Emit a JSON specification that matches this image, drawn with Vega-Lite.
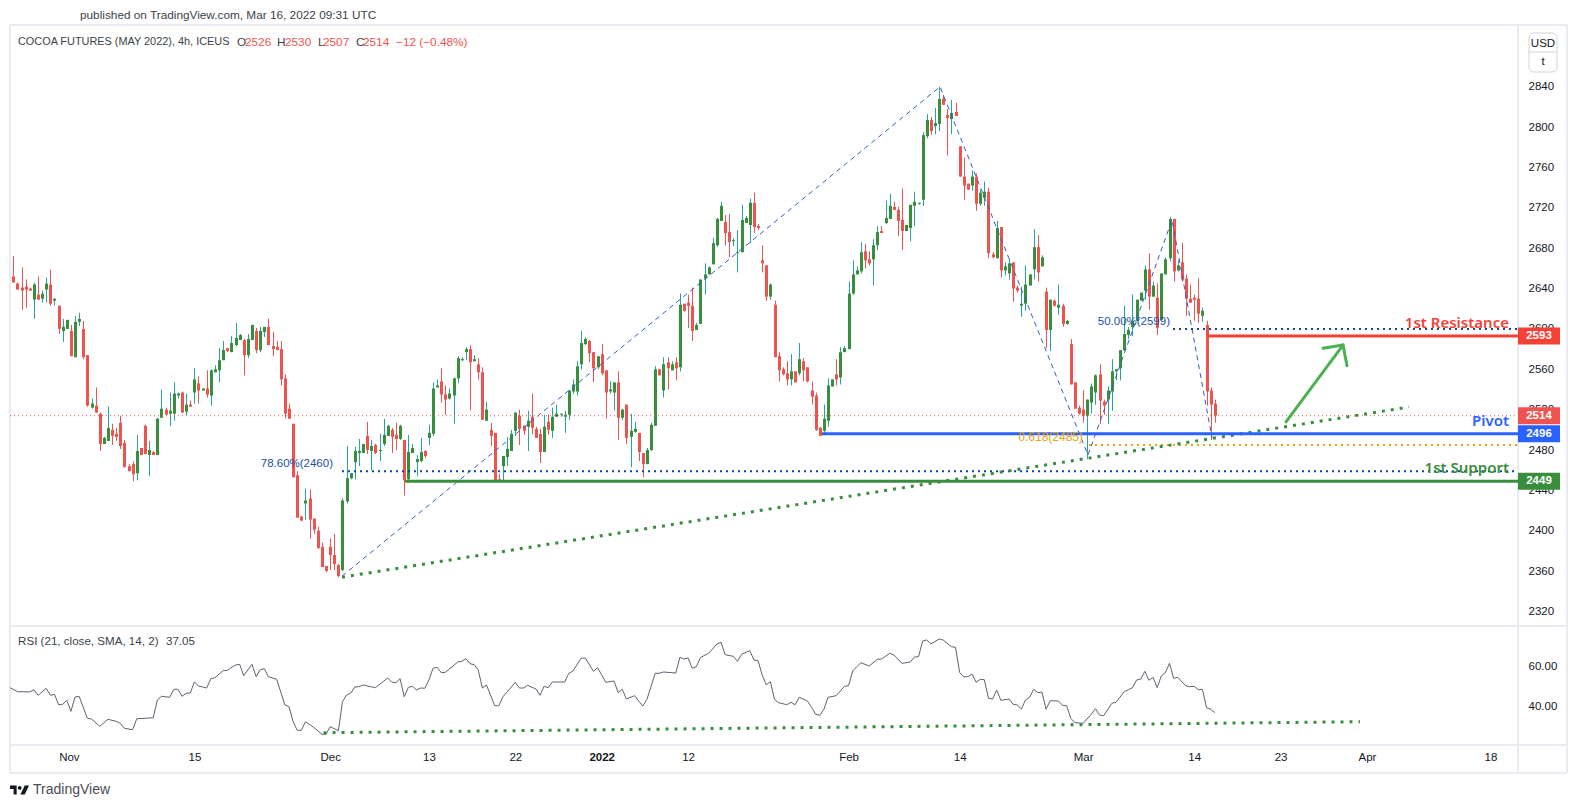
{
  "$schema": "https://vega.github.io/schema/vega-lite/v6.json",
  "background": "white",
  "padding": {"left": 8, "top": 10, "right": 0, "bottom": 0},
  "spacing": 0,
  "bounds": "flush",
  "config": {
    "view": {"stroke": null},
    "font": "Liberation Sans",
    "axis": {"domain": false, "ticks": false, "grid": false, "labelFont": "Liberation Sans", "labelFontSize": 11.5, "labelColor": "#131722"},
    "axisX": {"labels": false}
  },
  "datasets": {
    "candles": [
{"i":0,"open":2652,"high":2672,"low":2646,"close":2646},{"i":1,"open":2645,"high":2646,"low":2639,"close":2639},{"i":2,"open":2641,"high":2661,"low":2619,"close":2638},{"i":3,"open":2642,"high":2649,"low":2621,"close":2639},{"i":4,"open":2640,"high":2641,"low":2638,"close":2638},
{"i":5,"open":2629,"high":2646,"low":2610,"close":2644},{"i":6,"open":2634,"high":2652,"low":2629,"close":2629},{"i":7,"open":2630,"high":2638,"low":2626,"close":2635},{"i":8,"open":2639,"high":2651,"low":2626,"close":2645},{"i":9,"open":2644,"high":2659,"low":2623,"close":2625},
{"i":10,"open":2628,"high":2630,"low":2623,"close":2630},{"i":11,"open":2623,"high":2623,"low":2595,"close":2600},{"i":12,"open":2598,"high":2610,"low":2587,"close":2602},{"i":13,"open":2600,"high":2609,"low":2600,"close":2609},{"i":14,"open":2598,"high":2604,"low":2573,"close":2573},
{"i":15,"open":2572,"high":2613,"low":2572,"close":2607},{"i":16,"open":2607,"high":2616,"low":2603,"close":2610},{"i":17,"open":2600,"high":2608,"low":2570,"close":2572},{"i":18,"open":2574,"high":2574,"low":2523,"close":2524},{"i":19,"open":2522,"high":2531,"low":2521,"close":2526},
{"i":20,"open":2524,"high":2542,"low":2517,"close":2517},{"i":21,"open":2516,"high":2517,"low":2479,"close":2486},{"i":22,"open":2486,"high":2493,"low":2486,"close":2492},{"i":23,"open":2489,"high":2523,"low":2489,"close":2502},{"i":24,"open":2500,"high":2506,"low":2485,"close":2494},
{"i":25,"open":2496,"high":2502,"low":2489,"close":2493},{"i":26,"open":2507,"high":2514,"low":2481,"close":2484},{"i":27,"open":2487,"high":2490,"low":2463,"close":2463},{"i":28,"open":2464,"high":2466,"low":2459,"close":2459},{"i":29,"open":2466,"high":2469,"low":2449,"close":2456},
{"i":30,"open":2457,"high":2495,"low":2450,"close":2479},{"i":31,"open":2482,"high":2482,"low":2475,"close":2475},{"i":32,"open":2504,"high":2505,"low":2476,"close":2476},{"i":33,"open":2475,"high":2489,"low":2454,"close":2480},{"i":34,"open":2478,"high":2479,"low":2475,"close":2475},
{"i":35,"open":2475,"high":2512,"low":2475,"close":2511},{"i":36,"open":2512,"high":2540,"low":2512,"close":2521},{"i":37,"open":2520,"high":2522,"low":2515,"close":2515},{"i":38,"open":2516,"high":2537,"low":2504,"close":2519},{"i":39,"open":2516,"high":2547,"low":2509,"close":2536},
{"i":40,"open":2534,"high":2537,"low":2531,"close":2536},{"i":41,"open":2537,"high":2538,"low":2517,"close":2517},{"i":42,"open":2518,"high":2536,"low":2514,"close":2525},{"i":43,"open":2525,"high":2529,"low":2523,"close":2523},{"i":44,"open":2537,"high":2561,"low":2526,"close":2550},
{"i":45,"open":2546,"high":2553,"low":2526,"close":2539},{"i":46,"open":2539,"high":2541,"low":2539,"close":2541},{"i":47,"open":2541,"high":2559,"low":2532,"close":2535},{"i":48,"open":2534,"high":2560,"low":2524,"close":2559},{"i":49,"open":2557,"high":2564,"low":2557,"close":2560},
{"i":50,"open":2559,"high":2581,"low":2547,"close":2569},{"i":51,"open":2569,"high":2588,"low":2569,"close":2579},{"i":52,"open":2581,"high":2581,"low":2577,"close":2578},{"i":53,"open":2577,"high":2593,"low":2577,"close":2586},{"i":54,"open":2584,"high":2606,"low":2583,"close":2591},
{"i":55,"open":2589,"high":2595,"low":2589,"close":2594},{"i":56,"open":2589,"high":2590,"low":2554,"close":2574},{"i":57,"open":2574,"high":2595,"low":2571,"close":2590},{"i":58,"open":2589,"high":2604,"low":2589,"close":2604},{"i":59,"open":2598,"high":2601,"low":2576,"close":2579},
{"i":60,"open":2579,"high":2602,"low":2577,"close":2598},{"i":61,"open":2597,"high":2602,"low":2592,"close":2602},{"i":62,"open":2602,"high":2610,"low":2584,"close":2584},{"i":63,"open":2583,"high":2597,"low":2573,"close":2580},{"i":64,"open":2582,"high":2588,"low":2579,"close":2579},
{"i":65,"open":2580,"high":2588,"low":2544,"close":2550},{"i":66,"open":2551,"high":2555,"low":2511,"close":2516},{"i":67,"open":2521,"high":2526,"low":2511,"close":2511},{"i":68,"open":2506,"high":2506,"low":2453,"close":2453},{"i":69,"open":2455,"high":2459,"low":2413,"close":2413},
{"i":70,"open":2414,"high":2415,"low":2410,"close":2410},{"i":71,"open":2427,"high":2442,"low":2411,"close":2430},{"i":72,"open":2432,"high":2441,"low":2392,"close":2411},{"i":73,"open":2412,"high":2412,"low":2397,"close":2401},{"i":74,"open":2400,"high":2404,"low":2382,"close":2383},
{"i":75,"open":2384,"high":2388,"low":2364,"close":2364},{"i":76,"open":2365,"high":2365,"low":2359,"close":2360},{"i":77,"open":2384,"high":2392,"low":2361,"close":2376},{"i":78,"open":2376,"high":2397,"low":2361,"close":2367},{"i":79,"open":2366,"high":2367,"low":2354,"close":2355},
{"i":80,"open":2361,"high":2432,"low":2360,"close":2430},{"i":81,"open":2429,"high":2484,"low":2427,"close":2452},{"i":82,"open":2452,"high":2457,"low":2451,"close":2457},{"i":83,"open":2468,"high":2483,"low":2451,"close":2479},{"i":84,"open":2477,"high":2491,"low":2464,"close":2479},
{"i":85,"open":2477,"high":2486,"low":2477,"close":2486},{"i":86,"open":2494,"high":2508,"low":2476,"close":2480},{"i":87,"open":2479,"high":2490,"low":2460,"close":2484},{"i":88,"open":2485,"high":2486,"low":2476,"close":2477},{"i":89,"open":2479,"high":2496,"low":2469,"close":2480},
{"i":90,"open":2486,"high":2511,"low":2484,"close":2495},{"i":91,"open":2494,"high":2505,"low":2494,"close":2504},{"i":92,"open":2500,"high":2502,"low":2477,"close":2493},{"i":93,"open":2495,"high":2507,"low":2480,"close":2491},{"i":94,"open":2491,"high":2505,"low":2490,"close":2504},
{"i":95,"open":2490,"high":2490,"low":2435,"close":2450},{"i":96,"open":2451,"high":2495,"low":2450,"close":2478},{"i":97,"open":2477,"high":2486,"low":2477,"close":2482},{"i":98,"open":2468,"high":2475,"low":2454,"close":2471},{"i":99,"open":2469,"high":2492,"low":2468,"close":2478},
{"i":100,"open":2479,"high":2480,"low":2472,"close":2474},{"i":101,"open":2492,"high":2505,"low":2485,"close":2497},{"i":102,"open":2496,"high":2547,"low":2494,"close":2541},{"i":103,"open":2542,"high":2550,"low":2542,"close":2544},{"i":104,"open":2548,"high":2561,"low":2527,"close":2535},
{"i":105,"open":2535,"high":2544,"low":2515,"close":2530},{"i":106,"open":2531,"high":2541,"low":2530,"close":2536},{"i":107,"open":2534,"high":2552,"low":2506,"close":2551},{"i":108,"open":2551,"high":2573,"low":2546,"close":2571},{"i":109,"open":2569,"high":2572,"low":2568,"close":2570},
{"i":110,"open":2577,"high":2582,"low":2569,"close":2580},{"i":111,"open":2580,"high":2584,"low":2519,"close":2567},{"i":112,"open":2568,"high":2574,"low":2568,"close":2570},{"i":113,"open":2565,"high":2571,"low":2550,"close":2557},{"i":114,"open":2557,"high":2562,"low":2510,"close":2510},
{"i":115,"open":2509,"high":2528,"low":2509,"close":2520},{"i":116,"open":2500,"high":2507,"low":2484,"close":2494},{"i":117,"open":2497,"high":2497,"low":2449,"close":2449},{"i":118,"open":2451,"high":2456,"low":2449,"close":2449},{"i":119,"open":2464,"high":2474,"low":2449,"close":2474},
{"i":120,"open":2473,"high":2493,"low":2464,"close":2481},{"i":121,"open":2479,"high":2500,"low":2479,"close":2496},{"i":122,"open":2499,"high":2518,"low":2494,"close":2517},{"i":123,"open":2514,"high":2520,"low":2485,"close":2501},{"i":124,"open":2504,"high":2504,"low":2495,"close":2499},
{"i":125,"open":2503,"high":2519,"low":2479,"close":2509},{"i":126,"open":2513,"high":2536,"low":2496,"close":2502},{"i":127,"open":2501,"high":2503,"low":2492,"close":2492},{"i":128,"open":2496,"high":2501,"low":2467,"close":2478},{"i":129,"open":2478,"high":2515,"low":2478,"close":2503},
{"i":130,"open":2508,"high":2515,"low":2495,"close":2500},{"i":131,"open":2499,"high":2522,"low":2492,"close":2513},{"i":132,"open":2513,"high":2525,"low":2513,"close":2516},{"i":133,"open":2515,"high":2516,"low":2513,"close":2516},{"i":134,"open":2513,"high":2519,"low":2497,"close":2515},
{"i":135,"open":2515,"high":2539,"low":2510,"close":2539},{"i":136,"open":2538,"high":2550,"low":2536,"close":2545},{"i":137,"open":2538,"high":2568,"low":2534,"close":2563},{"i":138,"open":2565,"high":2598,"low":2560,"close":2586},{"i":139,"open":2585,"high":2592,"low":2584,"close":2590},
{"i":140,"open":2588,"high":2589,"low":2567,"close":2576},{"i":141,"open":2577,"high":2577,"low":2547,"close":2561},{"i":142,"open":2562,"high":2573,"low":2560,"close":2573},{"i":143,"open":2575,"high":2585,"low":2554,"close":2556},{"i":144,"open":2559,"high":2559,"low":2511,"close":2537},
{"i":145,"open":2538,"high":2548,"low":2536,"close":2540},{"i":146,"open":2537,"high":2547,"low":2519,"close":2547},{"i":147,"open":2547,"high":2558,"low":2490,"close":2512},{"i":148,"open":2512,"high":2521,"low":2510,"close":2520},{"i":149,"open":2525,"high":2525,"low":2486,"close":2492},
{"i":150,"open":2493,"high":2516,"low":2463,"close":2499},{"i":151,"open":2498,"high":2508,"low":2497,"close":2501},{"i":152,"open":2497,"high":2497,"low":2469,"close":2478},{"i":153,"open":2477,"high":2477,"low":2453,"close":2466},{"i":154,"open":2466,"high":2482,"low":2466,"close":2480},
{"i":155,"open":2480,"high":2507,"low":2479,"close":2505},{"i":156,"open":2504,"high":2563,"low":2504,"close":2560},{"i":157,"open":2560,"high":2560,"low":2554,"close":2554},{"i":158,"open":2539,"high":2572,"low":2532,"close":2565},{"i":159,"open":2567,"high":2572,"low":2540,"close":2561},
{"i":160,"open":2559,"high":2568,"low":2559,"close":2565},{"i":161,"open":2567,"high":2572,"low":2549,"close":2561},{"i":162,"open":2562,"high":2635,"low":2558,"close":2624},{"i":163,"open":2625,"high":2625,"low":2617,"close":2618},{"i":164,"open":2626,"high":2634,"low":2601,"close":2623},
{"i":165,"open":2623,"high":2641,"low":2588,"close":2598},{"i":166,"open":2599,"high":2606,"low":2599,"close":2604},{"i":167,"open":2605,"high":2649,"low":2605,"close":2649},{"i":168,"open":2650,"high":2665,"low":2634,"close":2654},{"i":169,"open":2654,"high":2662,"low":2654,"close":2661},
{"i":170,"open":2664,"high":2690,"low":2664,"close":2685},{"i":171,"open":2683,"high":2710,"low":2681,"close":2709},{"i":172,"open":2707,"high":2726,"low":2707,"close":2722},{"i":173,"open":2706,"high":2713,"low":2683,"close":2695},{"i":174,"open":2696,"high":2714,"low":2671,"close":2686},
{"i":175,"open":2687,"high":2690,"low":2682,"close":2688},{"i":176,"open":2675,"high":2698,"low":2656,"close":2676},{"i":177,"open":2676,"high":2723,"low":2676,"close":2708},{"i":178,"open":2705,"high":2712,"low":2705,"close":2710},{"i":179,"open":2703,"high":2729,"low":2685,"close":2725},
{"i":180,"open":2725,"high":2735,"low":2695,"close":2701},{"i":181,"open":2702,"high":2704,"low":2698,"close":2700},{"i":182,"open":2668,"high":2683,"low":2656,"close":2665},{"i":183,"open":2663,"high":2663,"low":2628,"close":2632},{"i":184,"open":2632,"high":2645,"low":2629,"close":2644},
{"i":185,"open":2624,"high":2628,"low":2572,"close":2572},{"i":186,"open":2573,"high":2577,"low":2548,"close":2559},{"i":187,"open":2560,"high":2562,"low":2554,"close":2555},{"i":188,"open":2556,"high":2568,"low":2544,"close":2550},{"i":189,"open":2550,"high":2575,"low":2544,"close":2558},
{"i":190,"open":2558,"high":2558,"low":2547,"close":2547},{"i":191,"open":2556,"high":2586,"low":2554,"close":2570},{"i":192,"open":2568,"high":2571,"low":2548,"close":2559},{"i":193,"open":2562,"high":2562,"low":2547,"close":2548},{"i":194,"open":2539,"high":2548,"low":2525,"close":2533},
{"i":195,"open":2534,"high":2537,"low":2499,"close":2500},{"i":196,"open":2502,"high":2503,"low":2494,"close":2494},{"i":197,"open":2499,"high":2525,"low":2497,"close":2511},{"i":198,"open":2509,"high":2551,"low":2503,"close":2544},{"i":199,"open":2543,"high":2550,"low":2543,"close":2550},
{"i":200,"open":2555,"high":2570,"low":2544,"close":2550},{"i":201,"open":2552,"high":2582,"low":2545,"close":2577},{"i":202,"open":2577,"high":2583,"low":2577,"close":2581},{"i":203,"open":2580,"high":2647,"low":2580,"close":2635},{"i":204,"open":2635,"high":2668,"low":2634,"close":2654},
{"i":205,"open":2654,"high":2662,"low":2654,"close":2658},{"i":206,"open":2657,"high":2686,"low":2655,"close":2676},{"i":207,"open":2677,"high":2684,"low":2660,"close":2668},{"i":208,"open":2669,"high":2677,"low":2663,"close":2665},{"i":209,"open":2669,"high":2689,"low":2643,"close":2683},
{"i":210,"open":2683,"high":2702,"low":2678,"close":2696},{"i":211,"open":2697,"high":2702,"low":2695,"close":2695},{"i":212,"open":2705,"high":2727,"low":2704,"close":2710},{"i":213,"open":2709,"high":2734,"low":2709,"close":2722},{"i":214,"open":2721,"high":2726,"low":2718,"close":2718},
{"i":215,"open":2718,"high":2721,"low":2692,"close":2707},{"i":216,"open":2708,"high":2739,"low":2678,"close":2697},{"i":217,"open":2697,"high":2703,"low":2697,"close":2703},{"i":218,"open":2700,"high":2723,"low":2687,"close":2723},{"i":219,"open":2722,"high":2736,"low":2702,"close":2726},
{"i":220,"open":2724,"high":2725,"low":2723,"close":2725},{"i":221,"open":2728,"high":2795,"low":2722,"close":2792},{"i":222,"open":2791,"high":2813,"low":2789,"close":2807},{"i":223,"open":2807,"high":2810,"low":2792,"close":2796},{"i":224,"open":2801,"high":2819,"low":2793,"close":2804},
{"i":225,"open":2803,"high":2840,"low":2796,"close":2828},{"i":226,"open":2828,"high":2832,"low":2822,"close":2822},{"i":227,"open":2812,"high":2818,"low":2772,"close":2809},{"i":228,"open":2808,"high":2827,"low":2793,"close":2814},{"i":229,"open":2815,"high":2824,"low":2811,"close":2811},
{"i":230,"open":2781,"high":2781,"low":2751,"close":2751},{"i":231,"open":2751,"high":2770,"low":2728,"close":2742},{"i":232,"open":2744,"high":2744,"low":2738,"close":2738},{"i":233,"open":2742,"high":2757,"low":2737,"close":2751},{"i":234,"open":2751,"high":2754,"low":2717,"close":2724},
{"i":235,"open":2724,"high":2738,"low":2722,"close":2735},{"i":236,"open":2730,"high":2746,"low":2722,"close":2736},{"i":237,"open":2736,"high":2740,"low":2670,"close":2675},{"i":238,"open":2674,"high":2676,"low":2670,"close":2671},{"i":239,"open":2670,"high":2707,"low":2670,"close":2700},
{"i":240,"open":2701,"high":2701,"low":2651,"close":2658},{"i":241,"open":2658,"high":2666,"low":2653,"close":2662},{"i":242,"open":2655,"high":2669,"low":2649,"close":2665},{"i":243,"open":2666,"high":2666,"low":2627,"close":2640},{"i":244,"open":2641,"high":2643,"low":2636,"close":2638},
{"i":245,"open":2623,"high":2642,"low":2612,"close":2625},{"i":246,"open":2625,"high":2663,"low":2618,"close":2644},{"i":247,"open":2643,"high":2654,"low":2643,"close":2654},{"i":248,"open":2659,"high":2699,"low":2649,"close":2681},{"i":249,"open":2681,"high":2693,"low":2647,"close":2656},
{"i":250,"open":2662,"high":2673,"low":2662,"close":2671},{"i":251,"open":2637,"high":2641,"low":2581,"close":2599},{"i":252,"open":2599,"high":2629,"low":2578,"close":2629},{"i":253,"open":2628,"high":2629,"low":2622,"close":2623},{"i":254,"open":2621,"high":2644,"low":2614,"close":2624},
{"i":255,"open":2623,"high":2625,"low":2602,"close":2605},{"i":256,"open":2605,"high":2609,"low":2604,"close":2608},{"i":257,"open":2585,"high":2590,"low":2545,"close":2545},{"i":258,"open":2547,"high":2547,"low":2521,"close":2521},{"i":259,"open":2522,"high":2524,"low":2515,"close":2516},
{"i":260,"open":2520,"high":2539,"low":2507,"close":2514},{"i":261,"open":2514,"high":2530,"low":2471,"close":2530},{"i":262,"open":2527,"high":2546,"low":2516,"close":2543},{"i":263,"open":2537,"high":2555,"low":2525,"close":2554},{"i":264,"open":2555,"high":2565,"low":2506,"close":2529},
{"i":265,"open":2528,"high":2530,"low":2515,"close":2524},{"i":266,"open":2530,"high":2543,"low":2506,"close":2539},{"i":267,"open":2538,"high":2570,"low":2519,"close":2558},{"i":268,"open":2558,"high":2560,"low":2549,"close":2560},{"i":269,"open":2561,"high":2579,"low":2549,"close":2579},
{"i":270,"open":2579,"high":2623,"low":2578,"close":2595},{"i":271,"open":2594,"high":2602,"low":2590,"close":2599},{"i":272,"open":2602,"high":2634,"low":2593,"close":2608},{"i":273,"open":2608,"high":2629,"low":2608,"close":2629},{"i":274,"open":2628,"high":2636,"low":2628,"close":2636},
{"i":275,"open":2638,"high":2663,"low":2629,"close":2659},{"i":276,"open":2659,"high":2675,"low":2619,"close":2632},{"i":277,"open":2632,"high":2647,"low":2632,"close":2643},{"i":278,"open":2631,"high":2645,"low":2594,"close":2601},{"i":279,"open":2609,"high":2655,"low":2609,"close":2655},
{"i":280,"open":2654,"high":2671,"low":2654,"close":2669},{"i":281,"open":2670,"high":2711,"low":2667,"close":2709},{"i":282,"open":2709,"high":2709,"low":2647,"close":2657},{"i":283,"open":2658,"high":2668,"low":2657,"close":2663},{"i":284,"open":2666,"high":2685,"low":2647,"close":2649},
{"i":285,"open":2650,"high":2654,"low":2613,"close":2630},{"i":286,"open":2630,"high":2644,"low":2626,"close":2626},{"i":287,"open":2631,"high":2634,"low":2608,"close":2629},{"i":288,"open":2630,"high":2650,"low":2606,"close":2615},{"i":289,"open":2613,"high":2621,"low":2607,"close":2618},
{"i":290,"open":2604,"high":2608,"low":2524,"close":2538},{"i":291,"open":2539,"high":2542,"low":2490,"close":2525},{"i":292,"open":2526,"high":2530,"low":2507,"close":2514}
    ],
    "rsi": [
{"i":-0.8,"rsi":49.5},{"i":1,"rsi":47.5},{"i":4,"rsi":47.4},{"i":5,"rsi":48.5},{"i":6,"rsi":45.7},{"i":8,"rsi":49.2},{"i":9,"rsi":45.7},{"i":10,"rsi":46.2},{"i":11,"rsi":41},{"i":12,"rsi":41.2},{"i":13,"rsi":43.2},{"i":14,"rsi":37.7},{"i":15,"rsi":44.85},{"i":16,"rsi":45.2},{"i":18,"rsi":34.2},{"i":19,"rsi":33.85},{"i":21,"rsi":30.2},{"i":23,"rsi":33.7},{"i":25,"rsi":32.7},{"i":26,"rsi":31.7},{"i":27,"rsi":29.2},{"i":29,"rsi":28.5},{"i":30,"rsi":34},{"i":32,"rsi":34.2},{"i":34,"rsi":34.5},{"i":35,"rsi":43.35},{"i":36,"rsi":45.2},{"i":38,"rsi":44.7},{"i":39,"rsi":48.7},{"i":40,"rsi":48.7},{"i":41,"rsi":45.2},{"i":42,"rsi":46.7},{"i":43,"rsi":46.85},{"i":44,"rsi":52.35},{"i":45,"rsi":50.35},{"i":47,"rsi":49.35},{"i":48,"rsi":54},{"i":49,"rsi":54.5},{"i":51,"rsi":58},{"i":52,"rsi":58.2},{"i":54,"rsi":60.85},{"i":55,"rsi":61.2},{"i":56,"rsi":55.5},{"i":58,"rsi":61.2},{"i":59,"rsi":55},{"i":60,"rsi":58.5},{"i":61,"rsi":59},{"i":62,"rsi":55},{"i":64,"rsi":53.7},{"i":66,"rsi":40.85},{"i":67,"rsi":40},{"i":68,"rsi":32.5},{"i":69,"rsi":28.2},{"i":70,"rsi":28.2},{"i":71,"rsi":32.5},{"i":73,"rsi":29.7},{"i":75,"rsi":26.2},{"i":76,"rsi":26.2},{"i":77,"rsi":30},{"i":79,"rsi":28},{"i":80,"rsi":42.5},{"i":81,"rsi":45.85},{"i":82,"rsi":46.7},{"i":83,"rsi":49.85},{"i":84,"rsi":50},{"i":85,"rsi":50.85},{"i":88,"rsi":49.5},{"i":91,"rsi":54.35},{"i":92,"rsi":52.2},{"i":93,"rsi":52},{"i":94,"rsi":54},{"i":95,"rsi":45},{"i":96,"rsi":49.7},{"i":97,"rsi":50.2},{"i":98,"rsi":48.35},{"i":99,"rsi":49.35},{"i":100,"rsi":49.2},{"i":101,"rsi":53.35},{"i":102,"rsi":59.2},{"i":103,"rsi":59.7},{"i":104,"rsi":57},{"i":105,"rsi":57.2},{"i":108,"rsi":62.35},{"i":109,"rsi":62.7},{"i":110,"rsi":64},{"i":111,"rsi":61.5},{"i":112,"rsi":61},{"i":113,"rsi":58.35},{"i":114,"rsi":49.35},{"i":115,"rsi":50.85},{"i":117,"rsi":40.5},{"i":118,"rsi":40.5},{"i":119,"rsi":45},{"i":120,"rsi":47.35},{"i":122,"rsi":52.2},{"i":123,"rsi":49.35},{"i":124,"rsi":49.35},{"i":125,"rsi":50.7},{"i":127,"rsi":48.85},{"i":128,"rsi":45.7},{"i":129,"rsi":50.2},{"i":130,"rsi":49.5},{"i":131,"rsi":52.35},{"i":134,"rsi":52.35},{"i":135,"rsi":56.7},{"i":136,"rsi":57.85},{"i":138,"rsi":64.2},{"i":139,"rsi":64.35},{"i":141,"rsi":57.7},{"i":142,"rsi":59.5},{"i":144,"rsi":52.2},{"i":146,"rsi":52.85},{"i":147,"rsi":47},{"i":148,"rsi":48.7},{"i":149,"rsi":43.85},{"i":151,"rsi":45.5},{"i":152,"rsi":42.85},{"i":153,"rsi":40.35},{"i":154,"rsi":43.7},{"i":156,"rsi":56.7},{"i":157,"rsi":56.7},{"i":158,"rsi":57.35},{"i":161,"rsi":56.85},{"i":162,"rsi":64.7},{"i":163,"rsi":63.85},{"i":164,"rsi":64.35},{"i":165,"rsi":59.2},{"i":166,"rsi":60},{"i":167,"rsi":64.6},{"i":169,"rsi":66.7},{"i":171,"rsi":71.35},{"i":172,"rsi":72.2},{"i":173,"rsi":66},{"i":175,"rsi":65.2},{"i":176,"rsi":62.7},{"i":177,"rsi":66.2},{"i":179,"rsi":68},{"i":180,"rsi":63.35},{"i":181,"rsi":63},{"i":182,"rsi":55.85},{"i":183,"rsi":51},{"i":184,"rsi":52.5},{"i":185,"rsi":43.7},{"i":186,"rsi":42},{"i":188,"rsi":41},{"i":189,"rsi":42.2},{"i":190,"rsi":41},{"i":191,"rsi":44.7},{"i":193,"rsi":42.85},{"i":194,"rsi":39.7},{"i":195,"rsi":36.2},{"i":196,"rsi":35.7},{"i":197,"rsi":38.7},{"i":198,"rsi":44.7},{"i":200,"rsi":45.5},{"i":202,"rsi":50.2},{"i":203,"rsi":50.5},{"i":204,"rsi":57.85},{"i":205,"rsi":60},{"i":206,"rsi":62},{"i":208,"rsi":60.35},{"i":210,"rsi":63.7},{"i":211,"rsi":63.85},{"i":213,"rsi":66.7},{"i":214,"rsi":65.85},{"i":216,"rsi":61.7},{"i":218,"rsi":62.35},{"i":219,"rsi":64.85},{"i":220,"rsi":65},{"i":221,"rsi":72.85},{"i":222,"rsi":73.35},{"i":223,"rsi":71.35},{"i":225,"rsi":73.85},{"i":226,"rsi":73.35},{"i":228,"rsi":70},{"i":229,"rsi":69.7},{"i":230,"rsi":57},{"i":231,"rsi":55},{"i":232,"rsi":55},{"i":233,"rsi":56.35},{"i":234,"rsi":52.2},{"i":235,"rsi":53.7},{"i":236,"rsi":53.5},{"i":237,"rsi":44.2},{"i":238,"rsi":43.85},{"i":239,"rsi":48.35},{"i":240,"rsi":43.2},{"i":242,"rsi":43.85},{"i":243,"rsi":41.2},{"i":244,"rsi":40.85},{"i":245,"rsi":38.85},{"i":246,"rsi":43.35},{"i":247,"rsi":44.7},{"i":248,"rsi":48.7},{"i":249,"rsi":47},{"i":250,"rsi":47.35},{"i":251,"rsi":38.7},{"i":252,"rsi":43},{"i":254,"rsi":42.85},{"i":255,"rsi":40.7},{"i":256,"rsi":40.5},{"i":257,"rsi":34.2},{"i":258,"rsi":32},{"i":260,"rsi":31.7},{"i":262,"rsi":36.2},{"i":263,"rsi":39},{"i":264,"rsi":35.85},{"i":265,"rsi":35.5},{"i":267,"rsi":41.7},{"i":268,"rsi":42.2},{"i":270,"rsi":47.5},{"i":271,"rsi":48.5},{"i":272,"rsi":49.5},{"i":273,"rsi":53.35},{"i":274,"rsi":53.85},{"i":275,"rsi":57.7},{"i":276,"rsi":53.2},{"i":277,"rsi":54.7},{"i":278,"rsi":49.5},{"i":279,"rsi":55.35},{"i":280,"rsi":57},{"i":281,"rsi":61.7},{"i":282,"rsi":54.2},{"i":283,"rsi":54.7},{"i":285,"rsi":50.35},{"i":286,"rsi":50},{"i":287,"rsi":50.2},{"i":288,"rsi":48.5},{"i":289,"rsi":48.7},{"i":290,"rsi":39.5},{"i":291,"rsi":38.7},{"i":292,"rsi":37.05}
    ],
    "levels": [
      {"name": "resistance", "start": 290.4, "end": 365.7, "price": 2593},
      {"name": "last", "start": -0.81, "end": 365.7, "price": 2514},
      {"name": "pivot", "start": 196.6, "end": 365.7, "price": 2496},
      {"name": "support", "start": 95.2, "end": 365.7, "price": 2449}
    ]
  },
  "vconcat": [
    {
      "width": 1508,
      "height": 601,
      "layer": [
        {
          "data": {"values": [
            {"x1": -0.81, "x2": 377.7, "y1": 2901.2, "y2": 2901.2},
            {"x1": -0.81, "x2": 377.7, "y1": 2305.6, "y2": 2305.6},
            {"x1": -0.81, "x2": 377.7, "y1": 2187.6, "y2": 2187.6},
            {"x1": -0.81, "x2": 377.7, "y1": 2160, "y2": 2160},
            {"x1": -0.81, "x2": -0.81, "y1": 2901.2, "y2": 2160},
            {"x1": 365.7, "x2": 365.7, "y1": 2901.2, "y2": 2160},
            {"x1": 377.7, "x2": 377.7, "y1": 2901.2, "y2": 2160}
          ]},
          "mark": {"type": "rule", "color": "#e9ebf0", "strokeWidth": 2},
          "encoding": {
            "x": {"field": "x1", "type": "quantitative", "title": null, "scale": {"domain": [-0.81, 365.7], "nice": false, "zero": false, "round": true}},
            "x2": {"field": "x2"},
            "y": {
              "field": "y1", "type": "quantitative", "title": null,
              "scale": {"domain": [2305.6, 2901.2], "nice": false, "zero": false},
              "axis": {"orient": "right", "title": null, "values": [2320, 2360, 2400, 2440, 2480, 2520, 2560, 2600, 2640, 2680, 2720, 2760, 2800, 2840], "labelPadding": 10, "format": "d"}
            },
            "y2": {"field": "y2"}
          }
        },
        {
          "data": {"name": "candles"},
          "mark": {"type": "rule", "strokeWidth": 1, "xOffset": 0.5},
          "encoding": {
            "x": {"field": "i", "type": "quantitative", "title": null},
            "y": {"field": "high", "type": "quantitative", "title": null},
            "y2": {"field": "low"},
            "color": {"condition": {"test": "datum.close >= datum.open", "value": "#26a69a"}, "value": "#ef5350"}
          }
        },
        {
          "data": {"name": "candles"},
          "mark": {"type": "rule", "strokeWidth": 3, "xOffset": 0.5},
          "encoding": {
            "x": {"field": "i", "type": "quantitative", "title": null},
            "y": {"field": "open", "type": "quantitative", "title": null},
            "y2": {"field": "close"},
            "color": {"condition": {"test": "datum.close >= datum.open", "value": "#388e3c"}, "value": "#ef5350"}
          }
        },
        {
          "data": {"values": [
            {"i": 79.9, "p": 2355},
            {"i": 225.2, "p": 2840},
            {"i": 261.2, "p": 2475},
            {"i": 281.6, "p": 2708},
            {"i": 291.4, "p": 2492}
          ]},
          "mark": {"type": "line", "color": "#2f5fc4", "strokeWidth": 1, "strokeDash": [5, 4]},
          "encoding": {
            "x": {"field": "i", "type": "quantitative", "title": null},
            "y": {"field": "p", "type": "quantitative", "title": null}
          }
        },
        {
          "data": {"values": [
            {"start": 79.9, "end": 365.7, "price": 2459},
            {"start": 281.9, "end": 365.7, "price": 2600}
          ]},
          "mark": {"type": "rule", "color": "#0d47a1", "strokeWidth": 2, "strokeDash": [2, 4]},
          "encoding": {
            "x": {"field": "start", "type": "quantitative", "title": null},
            "x2": {"field": "end"},
            "y": {"field": "price", "type": "quantitative", "title": null}
          }
        },
        {
          "data": {"values": [{"start": 261.5, "end": 365.7, "price": 2485}]},
          "mark": {"type": "rule", "color": "#e5a50f", "strokeWidth": 2, "strokeDash": [2, 4]},
          "encoding": {
            "x": {"field": "start", "type": "quantitative", "title": null},
            "x2": {"field": "end"},
            "y": {"field": "price", "type": "quantitative", "title": null}
          }
        },
        {
          "data": {"values": [{"i": 79.9, "p": 2354}, {"i": 339.3, "p": 2522.6}]},
          "mark": {"type": "line", "color": "#388e3c", "strokeWidth": 3, "strokeDash": [3, 6]},
          "encoding": {
            "x": {"field": "i", "type": "quantitative", "title": null},
            "y": {"field": "p", "type": "quantitative", "title": null}
          }
        },
        {
          "data": {"name": "levels"},
          "transform": [{"filter": "datum.name == 'last'"}],
          "mark": {"type": "rule", "color": "#ef5350", "strokeWidth": 1, "strokeDash": [1, 3]},
          "encoding": {
            "x": {"field": "start", "type": "quantitative", "title": null},
            "x2": {"field": "end"},
            "y": {"field": "price", "type": "quantitative", "title": null}
          }
        },
        {
          "data": {"name": "levels"},
          "transform": [{"filter": "datum.name != 'last'"}],
          "mark": {"type": "rule", "strokeWidth": 3},
          "encoding": {
            "x": {"field": "start", "type": "quantitative", "title": null},
            "x2": {"field": "end"},
            "y": {"field": "price", "type": "quantitative", "title": null},
            "color": {"field": "name", "type": "nominal", "legend": null, "scale": {"domain": ["resistance", "last", "pivot", "support"], "range": ["#f44336", "#ef5350", "#2962ff", "#388e3c"]}}
          }
        },
        {
          "data": {"name": "levels"},
          "mark": {"type": "rule", "strokeWidth": 17},
          "encoding": {
            "x": {"datum": 365.7, "type": "quantitative"},
            "x2": {"datum": 376},
            "y": {"field": "price", "type": "quantitative", "title": null},
            "color": {"field": "name", "type": "nominal", "legend": null}
          }
        },
        {
          "data": {"name": "levels"},
          "mark": {"type": "text", "color": "white", "fontWeight": "bold", "fontSize": 11.5, "align": "center", "baseline": "middle"},
          "encoding": {
            "x": {"datum": 370.9, "type": "quantitative"},
            "y": {"field": "price", "type": "quantitative", "title": null},
            "text": {"field": "price", "type": "quantitative", "format": "d"}
          }
        },
        {
          "data": {"values": [
            {"part": "shaft", "n": 0, "i": 309.3, "p": 2507.9},
            {"part": "shaft", "n": 1, "i": 323.2, "p": 2584},
            {"part": "head", "n": 0, "i": 318.3, "p": 2580.8},
            {"part": "head", "n": 1, "i": 323.2, "p": 2584},
            {"part": "head", "n": 2, "i": 324.1, "p": 2563.6}
          ]},
          "mark": {"type": "line", "color": "#4caf50", "strokeWidth": 3, "strokeCap": "round"},
          "encoding": {
            "x": {"field": "i", "type": "quantitative", "title": null},
            "y": {"field": "p", "type": "quantitative", "title": null},
            "detail": {"field": "part"},
            "order": {"field": "n"}
          }
        },
        {
          "data": {"values": [{"i": 77.7, "p": 2466, "label": "78.60%(2460)"}, {"i": 281.2, "p": 2607.2, "label": "50.00%(2599)"}]},
          "mark": {"type": "text", "color": "#1f4ea8", "fontSize": 11.5, "align": "right", "baseline": "middle"},
          "encoding": {
            "x": {"field": "i", "type": "quantitative", "title": null},
            "y": {"field": "p", "type": "quantitative", "title": null},
            "text": {"field": "label"}
          }
        },
        {
          "data": {"values": [{"i": 260, "p": 2492.9, "label": "0.618(2485)"}]},
          "mark": {"type": "text", "color": "#e5a50f", "fontSize": 12, "align": "right", "baseline": "middle"},
          "encoding": {
            "x": {"field": "i", "type": "quantitative", "title": null},
            "y": {"field": "p", "type": "quantitative", "title": null},
            "text": {"field": "label"}
          }
        },
        {
          "data": {"values": [
            {"i": 363.6, "p": 2606.2, "label": "1st Resistance", "name": "resistance"},
            {"i": 363.6, "p": 2509, "label": "Pivot", "name": "pivot"},
            {"i": 363.6, "p": 2462.2, "label": "1st Support", "name": "support"}
          ]},
          "mark": {"type": "text", "font": "Noto Sans", "fontWeight": 600, "fontSize": 15, "align": "right", "baseline": "middle"},
          "encoding": {
            "x": {"field": "i", "type": "quantitative", "title": null},
            "y": {"field": "p", "type": "quantitative", "title": null},
            "text": {"field": "label"},
            "color": {"field": "name", "type": "nominal", "legend": null}
          }
        },
        {
          "data": {"values": [
            {"i": 16.2, "p": 2911.1, "label": "published on TradingView.com, Mar 16, 2022 09:31 UTC"},
            {"i": 54.3, "p": 2884.7, "label": "O"},
            {"i": 64.1, "p": 2884.7, "label": "H"},
            {"i": 74, "p": 2884.7, "label": "L"},
            {"i": 83.2, "p": 2884.7, "label": "C"}
          ]},
          "mark": {"type": "text", "color": "#3b3f4a", "fontSize": 11.8, "align": "left", "baseline": "middle"},
          "encoding": {
            "x": {"field": "i", "type": "quantitative", "title": null},
            "y": {"field": "p", "type": "quantitative", "title": null},
            "text": {"field": "label"}
          }
        },
        {
          "data": {"values": [{"i": 1.14, "p": 2884.7, "label": "COCOA FUTURES (MAY 2022), 4h, ICEUS"}]},
          "mark": {"type": "text", "color": "#3b3f4a", "fontSize": 10.9, "align": "left", "baseline": "middle"},
          "encoding": {
            "x": {"field": "i", "type": "quantitative", "title": null},
            "y": {"field": "p", "type": "quantitative", "title": null},
            "text": {"field": "label"}
          }
        },
        {
          "data": {"values": [
            {"i": 56.3, "p": 2884.7, "label": "2526"},
            {"i": 66, "p": 2884.7, "label": "2530"},
            {"i": 75.3, "p": 2884.7, "label": "2507"},
            {"i": 85, "p": 2884.7, "label": "2514"},
            {"i": 92.9, "p": 2884.7, "label": "−12 (−0.48%)"}
          ]},
          "mark": {"type": "text", "color": "#ef5350", "fontSize": 11.8, "align": "left", "baseline": "middle"},
          "encoding": {
            "x": {"field": "i", "type": "quantitative", "title": null},
            "y": {"field": "p", "type": "quantitative", "title": null},
            "text": {"field": "label"}
          }
        },
        {
          "data": {"values": [{"left": 368.4, "right": 375.2, "top": 2893.3, "bottom": 2854.6}]},
          "mark": {"type": "rect", "fill": "white", "stroke": "#d1d4dc", "strokeWidth": 1, "cornerRadius": 5},
          "encoding": {
            "x": {"field": "left", "type": "quantitative", "title": null},
            "x2": {"field": "right"},
            "y": {"field": "top", "type": "quantitative", "title": null},
            "y2": {"field": "bottom"}
          }
        },
        {
          "data": {"values": [{"left": 368.4, "right": 375.2, "price": 2874.5}]},
          "mark": {"type": "rule", "color": "#d1d4dc", "strokeWidth": 1},
          "encoding": {
            "x": {"field": "left", "type": "quantitative", "title": null},
            "x2": {"field": "right"},
            "y": {"field": "price", "type": "quantitative", "title": null}
          }
        },
        {
          "data": {"values": [{"i": 371.8, "p": 2882.4, "label": "USD"}, {"i": 371.8, "p": 2864.6, "label": "t"}]},
          "mark": {"type": "text", "color": "#131722", "fontSize": 11.5, "align": "center", "baseline": "middle"},
          "encoding": {
            "x": {"field": "i", "type": "quantitative", "title": null},
            "y": {"field": "p", "type": "quantitative", "title": null},
            "text": {"field": "label"}
          }
        }
      ]
    },
    {
      "width": 1508,
      "height": 119,
      "layer": [
        {
          "data": {"name": "rsi"},
          "mark": {"type": "line", "color": "#5f6270", "strokeWidth": 1},
          "encoding": {
            "x": {
              "field": "i", "type": "quantitative", "title": null,
              "scale": {"domain": [-0.81, 365.7], "nice": false, "zero": false},
              "axis": {
                "title": null,
                "labels": true,
                "values": [13.5, 44, 77, 101, 122, 143, 164, 203, 230, 260, 287, 308, 329, 359],
                "labelExpr": "{'13.5':'Nov','44':'15','77':'Dec','101':'13','122':'22','143':'2022','164':'12','203':'Feb','230':'14','260':'Mar','287':'14','308':'23','329':'Apr','359':'18'}['' + datum.value]",
                "labelPadding": 6,
                "labelFontWeight": {"condition": {"test": "datum.value == 143", "value": "bold"}, "value": "normal"}
              }
            },
            "y": {
              "field": "rsi", "type": "quantitative", "title": null,
              "scale": {"domain": [20.85, 80.35], "nice": false, "zero": false},
              "axis": {"orient": "right", "title": null, "values": [40, 60], "format": ".2f", "labelPadding": 10}
            }
          }
        },
        {
          "data": {"values": [{"i": 75.4, "rsi": 27}, {"i": 327.3, "rsi": 32.5}]},
          "mark": {"type": "line", "color": "#388e3c", "strokeWidth": 3, "strokeDash": [3, 6]},
          "encoding": {
            "x": {"field": "i", "type": "quantitative", "title": null},
            "y": {"field": "rsi", "type": "quantitative", "title": null}
          }
        },
        {
          "data": {"values": [{"i": 1.14, "rsi": 72.35, "label": "RSI (21, close, SMA, 14, 2)"}, {"i": 37.1, "rsi": 72.35, "label": "37.05"}]},
          "mark": {"type": "text", "color": "#3b3f4a", "fontSize": 11.6, "align": "left", "baseline": "middle"},
          "encoding": {
            "x": {"field": "i", "type": "quantitative", "title": null},
            "y": {"field": "rsi", "type": "quantitative", "title": null},
            "text": {"field": "label"}
          }
        },
        {
          "data": {"values": [{"i": 4.8, "rsi": -1.65, "label": "TradingView"}]},
          "mark": {"type": "text", "color": "#4a4d57", "fontSize": 14, "align": "left", "baseline": "middle"},
          "encoding": {
            "x": {"field": "i", "type": "quantitative", "title": null},
            "y": {"field": "rsi", "type": "quantitative", "title": null},
            "text": {"field": "label"}
          }
        },
        {
          "data": {"values": [{"i": 1.5, "rsi": -1.65}]},
          "mark": {"type": "point", "filled": true, "opacity": 1, "color": "#131722", "size": 361, "shape": "M-1,-0.47 H-0.3 V0.47 H-0.62 V-0.1 H-1 Z M-0.18,-0.22 A0.2,0.2 0 1 1 0.22,-0.22 A0.2,0.2 0 1 1 -0.18,-0.22 Z M0.55,-0.47 H1 L0.55,0.47 H0.1 Z"},
          "encoding": {
            "x": {"field": "i", "type": "quantitative", "title": null},
            "y": {"field": "rsi", "type": "quantitative", "title": null}
          }
        }
      ]
    }
  ]
}
